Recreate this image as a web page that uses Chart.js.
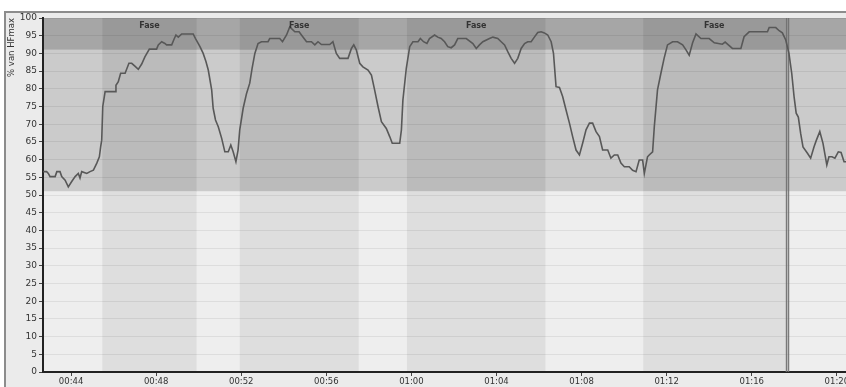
<!DOCTYPE html>
<html>
<head>
<meta charset="utf-8">
<script src="https://cdn.jsdelivr.net/npm/chart.js@4.4.1/dist/chart.umd.min.js"></script>
<style>
  html, body { margin: 0; padding: 0; background: #fff; overflow: hidden; }
  #wrap { width: 880px; height: 387px; }
</style>
</head>
<body>
<div id="wrap"><canvas id="hfChart" width="880" height="387"></canvas></div>
<script>
// --- data (time in minutes, % of HFmax) ---
const minutes = [
  42.69,42.85,42.93,43.01,43.25,43.33,43.48,43.56,43.72,43.87,
  44.03,44.19,44.34,44.42,44.50,44.74,44.89,45.05,45.21,45.33,
  45.39,45.44,45.49,45.60,46.07,46.11,46.22,46.33,46.54,46.72,
  46.85,47.00,47.16,47.32,47.47,47.68,48.02,48.10,48.26,48.41,
  48.49,48.73,48.84,48.93,49.04,49.20,49.74,49.85,50.06,50.21,
  50.34,50.45,50.61,50.68,50.79,50.92,51.08,51.23,51.39,51.51,
  51.62,51.75,51.85,51.93,52.09,52.25,52.40,52.51,52.64,52.79,
  52.95,53.26,53.34,53.81,53.94,54.13,54.28,54.52,54.72,54.83,
  55.07,55.30,55.46,55.61,55.77,56.16,56.31,56.47,56.63,57.02,
  57.18,57.29,57.41,57.57,57.72,57.96,58.12,58.27,58.43,58.59,
  58.82,58.98,59.10,59.45,59.53,59.60,59.76,59.92,60.07,60.31,
  60.42,60.57,60.73,60.85,61.09,61.24,61.40,61.56,61.71,61.87,
  62.03,62.18,62.58,62.89,63.05,63.20,63.36,63.67,63.83,64.06,
  64.22,64.38,64.53,64.69,64.85,65.00,65.16,65.32,65.47,65.63,
  65.78,65.94,66.10,66.25,66.41,66.57,66.68,66.80,66.96,67.11,
  67.27,67.43,67.58,67.74,67.90,68.05,68.21,68.37,68.52,68.68,
  68.84,68.99,69.23,69.38,69.54,69.70,69.85,70.01,70.24,70.40,
  70.56,70.71,70.87,70.95,71.10,71.18,71.34,71.42,71.57,71.73,
  71.88,72.04,72.28,72.51,72.75,72.91,73.06,73.22,73.38,73.61,
  74.00,74.24,74.62,74.75,74.86,75.09,75.49,75.64,75.88,76.74,
  76.82,77.13,77.29,77.44,77.60,77.75,77.88,77.99,78.09,78.19,
  78.30,78.41,78.62,78.77,78.93,79.04,79.20,79.35,79.53,79.63,
  79.77,79.91,80.07,80.20,80.34,80.60
];
const hfPct = [
  56.6,56.6,56.1,55.2,55.2,56.6,56.6,55.2,54.2,52.3,
  53.8,55.2,56.1,54.8,56.6,56.1,56.6,57.0,59.0,60.8,
  63.6,65.5,75.0,79.2,79.2,81.0,82.0,84.4,84.4,87.2,
  87.2,86.4,85.5,87.0,89.0,91.2,91.2,92.4,93.3,92.8,
  92.4,92.4,94.0,95.2,94.6,95.5,95.5,94.2,91.9,90.0,
  87.7,85.3,79.7,74.5,71.2,69.3,66.0,62.2,62.2,64.1,
  62.2,59.4,62.7,68.4,74.5,78.7,81.6,85.8,90.0,92.8,
  93.3,93.3,94.2,94.2,93.3,95.2,97.5,96.1,96.1,95.2,
  93.3,93.3,92.4,93.3,92.5,92.5,93.3,90.0,88.6,88.6,
  91.4,92.4,91.0,87.2,86.2,85.3,83.9,79.7,75.0,70.7,
  68.8,66.5,64.6,64.6,68.4,76.8,85.8,91.9,93.3,93.3,
  94.2,93.3,92.8,94.2,95.2,94.6,94.2,93.3,91.9,91.6,
  92.4,94.2,94.2,92.8,91.4,92.4,93.3,94.2,94.6,94.2,
  93.3,92.4,90.5,88.6,87.2,88.6,91.4,92.8,93.3,93.3,
  94.6,95.9,96.1,95.8,95.2,93.3,90.0,80.6,80.4,77.8,
  74.0,70.3,66.5,62.7,61.3,64.6,68.4,70.3,70.3,67.9,
  66.5,62.7,62.7,60.4,61.3,61.3,59.0,58.0,58.0,57.0,
  56.6,59.9,59.9,56.1,60.8,61.3,62.2,69.3,79.7,84.4,
  88.6,92.4,93.3,93.3,92.4,91.0,89.5,93.0,95.5,94.2,
  94.2,93.0,92.6,93.2,92.6,91.4,91.4,94.7,96.1,96.1,
  97.3,97.3,96.4,95.8,93.8,90.0,84.4,77.8,73.1,72.0,
  67.4,63.6,61.8,60.4,63.6,65.5,67.9,64.6,58.5,60.8,
  60.8,60.4,62.2,62.0,59.4,59.4
];

// phases ("Fase") in minutes
const phaseStart = [45.47, 51.93, 59.79, 70.90];
const phaseEnd   = [49.90, 57.52, 66.30, 77.57];
const phaseLabel = ['Fase', 'Fase', 'Fase', 'Fase'];

// zone limits (% HFmax)
const zoneLimits = [51, 91];

// marker (double vertical line) in minutes
const markerRange = [77.57, 77.76];

const xTicks = [44, 48, 52, 56, 60, 64, 68, 72, 76, 80];
const yTitle = '% van HFmax';

function fmtTime(m) {
  const h = Math.floor(m / 60);
  const mm = Math.round(m % 60);
  return String(h).padStart(2, '0') + ':' + String(mm).padStart(2, '0');
}

// achtergrond: zones + fases
const backgroundPlugin = {
  id: 'zones',
  beforeDraw(chart) {
    const { ctx, chartArea: a, scales: { x, y } } = chart;
    ctx.save();
    ctx.fillStyle = '#ffffff';
    ctx.fillRect(0, 0, chart.width, chart.height);
    ctx.fillStyle = '#ebebeb';
    ctx.fillRect(5, 12, chart.width, chart.height);
    ctx.fillStyle = '#8c8c8c';
    ctx.fillRect(5, 11, chart.width, 2);
    ctx.fillRect(4, 11, 2, chart.height);

    const yTop = y.getPixelForValue(zoneLimits[1]);
    const yMid = y.getPixelForValue(zoneLimits[0]);
    const bands = [
      [a.top, yTop, '#a6a6a6', '#999999'],
      [yTop, yMid, '#cbcbcb', '#bbbbbb'],
      [yMid, a.bottom, '#eeeeee', '#dedede']
    ];
    bands.forEach(([t, b, c]) => {
      ctx.fillStyle = c;
      ctx.fillRect(a.left, t, a.right - a.left, b - t);
    });
    phaseStart.forEach((s, i) => {
      const x0 = x.getPixelForValue(s);
      const x1 = x.getPixelForValue(phaseEnd[i]);
      bands.forEach(([t, b, , c]) => {
        ctx.fillStyle = c;
        ctx.fillRect(x0, t, x1 - x0, b - t);
      });
    });
    ctx.restore();
  },
  beforeDatasetsDraw(chart) {
    const { ctx, chartArea: a, scales: { x } } = chart;
    const x0 = x.getPixelForValue(markerRange[0]);
    const x1 = x.getPixelForValue(markerRange[1]);
    ctx.save();
    ctx.fillStyle = 'rgba(120,120,120,0.35)';
    ctx.fillRect(x0, a.top, x1 - x0, a.bottom - a.top);
    ctx.fillStyle = '#6e6e6e';
    ctx.fillRect(x0 + 1, a.top, 1, a.bottom - a.top);
    ctx.fillRect(x1 - 1, a.top, 1, a.bottom - a.top);
    ctx.restore();
  },
  afterDatasetsDraw(chart) {
    const { ctx, chartArea: a, scales: { x } } = chart;
    ctx.save();
    ctx.font = 'bold 8px "DejaVu Sans"';
    ctx.fillStyle = '#333';
    ctx.textAlign = 'center';
    ctx.textBaseline = 'middle';
    phaseStart.forEach((s, i) => {
      const cx = (x.getPixelForValue(s) + x.getPixelForValue(phaseEnd[i])) / 2;
      ctx.fillText(phaseLabel[i], cx, a.top + 8);
    });
    // as-titel bovenaan, geroteerd
    ctx.font = '8.5px "DejaVu Sans"';
    ctx.fillStyle = '#333';
    ctx.textAlign = 'right';
    ctx.translate(12, a.top);
    ctx.rotate(-Math.PI / 2);
    ctx.fillText(yTitle, 0, 0);
    ctx.restore();
  }
};

new Chart(document.getElementById('hfChart'), {
  type: 'line',
  data: {
    datasets: [{
      data: minutes.map((m, i) => ({ x: m, y: hfPct[i] })),
      borderColor: '#585858',
      borderWidth: 1.6,
      pointRadius: 0,
      tension: 0,
      fill: false
    }]
  },
  plugins: [backgroundPlugin],
  options: {
    responsive: false,
    animation: false,
    layout: { padding: { top: 18, right: 20, left: 0, bottom: 0 } },
    plugins: { legend: { display: false }, tooltip: { enabled: false } },
    scales: {
      x: {
        type: 'linear',
        min: 42.68,
        max: 81.09,
        afterBuildTicks: s => { s.ticks = xTicks.map(v => ({ value: v })); },
        afterFit: s => { s.height = 15; },
        border: { color: '#222', width: 2 },
        grid: { drawOnChartArea: false, tickLength: 4, tickColor: '#444' },
        ticks: {
          autoSkip: false, maxRotation: 0, padding: 1,
          color: '#333', font: { family: 'DejaVu Sans', size: 8.5 },
          callback: v => fmtTime(v)
        }
      },
      y: {
        min: 0,
        max: 100,
        afterFit: s => { s.width = 43; },
        border: { color: '#222', width: 2 },
        grid: { color: 'rgba(0,0,0,0.07)', tickLength: 4, tickColor: '#444' },
        ticks: {
          stepSize: 5, padding: 2,
          color: '#333', font: { family: 'DejaVu Sans', size: 9 }
        }
      }
    }
  }
});
</script>
</body>
</html>
